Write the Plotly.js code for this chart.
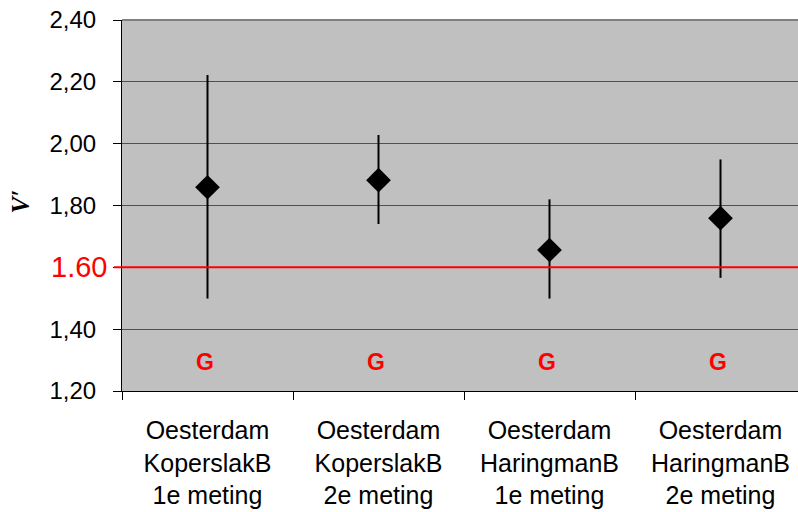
<!DOCTYPE html>
<html>
<head>
<meta charset="utf-8">
<script src="https://cdn.plot.ly/plotly-3.0.1.min.js"></script>
<style>html,body{margin:0;padding:0;overflow:hidden;background:#fff;}</style>
</head>
<body>
<div id="chart" style="width:798px;height:512px;"></div>
<script>
const categories = ["Oesterdam<br>KoperslakB<br>1e meting", "Oesterdam<br>KoperslakB<br>2e meting", "Oesterdam<br>HaringmanB<br>1e meting", "Oesterdam<br>HaringmanB<br>2e meting"];
const values = [1.859, 1.882, 1.656, 1.759];
const upper = [2.222, 2.028, 1.820, 1.949];
const lower = [1.499, 1.740, 1.499, 1.566];
const grades = ["G", "G", "G", "G"];
const gradeY = 1.293;
const threshold = 1.60;
const thresholdLabel = "1.60";
const yTickVals = [1.2, 1.4, 1.6, 1.8, 2.0, 2.2, 2.4];
const yTickText = ["1,20", "1,40", "", "1,80", "2,00", "2,20", "2,40"];

const idx = categories.map((c, i) => i);
const trace = {
  x: idx,
  y: values,
  type: 'scatter',
  mode: 'markers',
  marker: {symbol: 'diamond', size: 19, color: '#000000'},
  error_y: {
    type: 'data', symmetric: false,
    array: upper.map((u, i) => u - values[i]),
    arrayminus: values.map((v, i) => v - lower[i]),
    color: '#000000', thickness: 2, width: 0
  },
  hoverinfo: 'skip'
};

const annotations = grades.map((g, i) => ({
  x: i, y: gradeY, xref: 'x', yref: 'y', text: g, showarrow: false, xshift: -3,
  font: {family: 'Liberation Sans, Arial, sans-serif', size: 23, color: '#FF0000', weight: 'bold'}
}));
annotations.push({
  xref: 'paper', yref: 'paper', x: -0.15, y: 0.51, text: "<b><i>V′</i></b>", showarrow: false,
  textangle: -90, xanchor: 'center', yanchor: 'middle',
  font: {family: 'Liberation Serif, Times New Roman, serif', size: 25, color: '#000000'}
});
annotations.push({
  xref: 'paper', yref: 'y', x: 0, y: threshold, text: thresholdLabel, showarrow: false,
  xanchor: 'right', yanchor: 'middle', xshift: -13, yshift: 0,
  font: {family: 'Liberation Sans, Arial, sans-serif', size: 29, color: '#FF0000'}
});

const layout = {
  width: 798, height: 512,
  margin: {l: 122, r: 0, t: 20, b: 121, pad: 0},
  paper_bgcolor: '#FFFFFF',
  plot_bgcolor: '#C0C0C0',
  showlegend: false,
  font: {family: 'Liberation Sans, Arial, sans-serif', size: 24, color: '#000000'},
  xaxis: {
    range: [-0.5, -0.5 + 676 / 171],
    tickvals: idx, ticktext: categories,
    ticks: '', showgrid: false, zeroline: false,
    showline: true, linecolor: '#000000', linewidth: 1,
    ticklabelstandoff: 17,
    tickfont: {size: 25, color: '#000000'},
    minor: {tick0: -0.5, dtick: 1, ticks: 'outside', ticklen: 8, tickcolor: '#000000', tickwidth: 1, showgrid: false}
  },
  yaxis: {
    range: [1.2, 2.4],
    tickvals: yTickVals, ticktext: yTickText,
    ticks: 'outside', ticklen: 8, tickcolor: '#000000', tickwidth: 1,
    showgrid: true, gridcolor: '#505050', gridwidth: 1,
    zeroline: false,
    showline: true, linecolor: '#000000', linewidth: 1,
    ticklabelstandoff: 12,
    tickfont: {size: 24, color: '#000000'}
  },
  shapes: [
    {type: 'line', xref: 'paper', yref: 'paper', x0: 0, x1: 1, y0: 1, y1: 1, line: {color: '#808080', width: 2}},
    {type: 'line', xref: 'paper', yref: 'y', x0: -8 / 676, x1: 1, y0: threshold, y1: threshold, line: {color: '#FF0000', width: 2}}
  ],
  annotations: annotations
};

Plotly.newPlot('chart', [trace], layout, {displayModeBar: false, staticPlot: true});
</script>
</body>
</html>
